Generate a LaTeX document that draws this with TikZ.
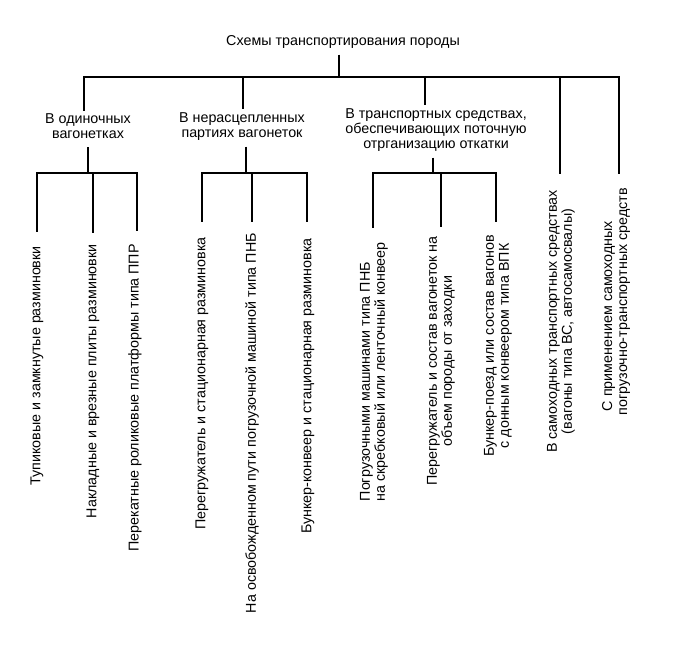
\documentclass[tikz,border=0pt]{standalone}
\usepackage{fontspec}
\setmainfont{Liberation Sans}
\begin{document}
\begin{tikzpicture}[x=1pt,y=-1pt,
  every node/.style={font=\fontsize{14.3}{15}\selectfont, inner sep=0pt},
  lbl/.style={align=center, inner sep=3pt},
  leaf/.style={rotate=90, anchor=east},
  wire/.style={line width=2.8pt}]
\useasboundingbox[fill=white] (0,0) rectangle (675,647);

% title and first level
\node[lbl] (T) at (343,42) {Схемы транспортирования породы};
\coordinate (b0) at (339,77);
\coordinate (b1) at (84,77);
\coordinate (b2) at (243,77);
\coordinate (b3) at (425,77);
\coordinate (b4) at (560,77);
\coordinate (b5) at (619,77);

\node[lbl] (L1) at (88,126.5) {В одиночных\\вагонетках};
\node[lbl] (L2) at (242,126.5) {В нерасцепленных\\партиях вагонеток};
\node[lbl] (L3) at (436,130) {В транспортных средствах,\\обеспечивающих поточную\\отрганизацию откатки};

% leaves
\node[leaf] (C11) at (37,246) {Тупиковые и замкнутые разминовки};
\node[leaf] (C12) at (93,244) {Накладные и врезные плиты разминовки};
\node[leaf] (C13) at (135,244) {Перекатные роликовые платформы типа ППР};

\node[leaf] (C21) at (202,237) {Перегружатель и стационарная разминовка};
\node[leaf] (C22) at (252,233) {На освобожденном пути погрузочной машиной типа ПНБ};
\node[leaf] (C23) at (308,238) {Бункер-конвеер и стационарная разминовка};

\node[leaf, align=left] (C31) at (374,242) {Погрузочными машинами типа ПНБ\\на скребковый или ленточный конвеер};
\node[leaf, align=center] (C32) at (441,236) {Перегружатель и состав вагонеток на\\объем породы от заходки};
\node[leaf, align=center] (C33) at (498,235) {Бункер-поезд или состав вагонов\\с донным конвеером типа ВПК};

\node[leaf, align=center] (D) at (561,190) {В самоходных транспортных средствах\\(вагоны типа ВС, автосамосвалы)};
\node[leaf, align=left] (E) at (616,188) {\hspace*{4pt}С применением самоходных\\погрузочно-транспортных средств};

% sub-bus coordinates
\coordinate (s1) at (88,173);
\coordinate (s11) at (37,173);
\coordinate (s12) at (93,173);
\coordinate (s13) at (137,173);
\coordinate (s2) at (246,173);
\coordinate (s21) at (202,173);
\coordinate (s22) at (252,173);
\coordinate (s23) at (307,173);
\coordinate (s3) at (433,173);
\coordinate (s31) at (373,173);
\coordinate (s32) at (441,173);
\coordinate (s33) at (496,173);

% first level wiring
\draw[wire, shorten <=3pt] (b0 |- T.south) -- (b0);
\draw[wire, shorten >=14pt] (b1 |- L1.north) -- (b1) -- (b5) -- (b5 |- E.east);
\draw[wire] (b2) -- (b2 |- L2.north);
\draw[wire] (b3) -- (b3 |- L3.north);
\draw[wire, shorten >=16pt] (b4) -- (b4 |- D.east);

% group 1
\draw[wire, shorten <=5pt] (s1 |- L1.south) -- (s1);
\draw[wire, shorten <=14pt, shorten >=13pt] (s11 |- C11.east) -- (s11) -- (s13) -- (s13 |- C13.east);
\draw[wire, shorten >=11pt] (s12) -- (s12 |- C12.east);

% group 2
\draw[wire, shorten <=3pt] (s2 |- L2.south) -- (s2);
\draw[wire, shorten <=15pt, shorten >=16pt] (s21 |- C21.east) -- (s21) -- (s23) -- (s23 |- C23.east);
\draw[wire, shorten >=11pt] (s22) -- (s22 |- C22.east);

% group 3
\draw[wire, shorten <=3pt] (s3 |- L3.south) -- (s3);
\draw[wire, shorten <=14pt, shorten >=13pt] (s31 |- C31.east) -- (s31) -- (s33) -- (s33 |- C33.east);
\draw[wire, shorten >=9pt] (s32) -- (s32 |- C32.east);
\end{tikzpicture}
\end{document}
